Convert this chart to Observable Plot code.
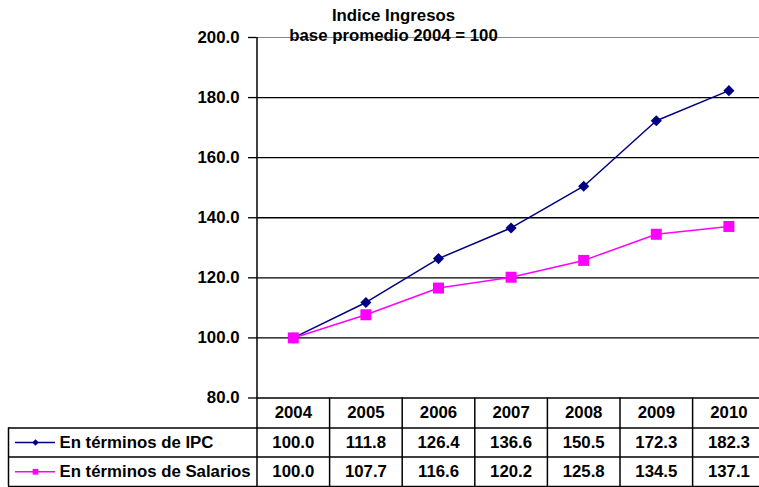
<!DOCTYPE html>
<html>
<head>
<meta charset="utf-8">
<script src="https://cdn.jsdelivr.net/npm/d3@7"></script>
<script src="https://cdn.jsdelivr.net/npm/@observablehq/plot@0.6"></script>
<style>
  html, body { margin: 0; padding: 0; background: #fff; }
  svg { display: block; }
</style>
</head>
<body>
<div id="chart"></div>
<script>
// ---- data ----
const years = [2004, 2005, 2006, 2007, 2008, 2009, 2010];
const ipc = [100.0, 111.8, 126.4, 136.6, 150.5, 172.3, 182.3];
const salarios = [100.0, 107.7, 116.6, 120.2, 125.8, 134.5, 137.1];
const seriesNames = ["En términos de IPC", "En términos de Salarios"];
const yTicks = [80, 100, 120, 140, 160, 180, 200];
const titleLines = ["Indice Ingresos", "base promedio 2004 = 100"];

// ---- layout helpers ----
const W = 759, H = 487;
const mLeft = 256.5, mTop = 37;
const colW = 72.6;
const yTopPx = 37, y80Px = 397.5;
const upp = 120 / (y80Px - yTopPx);              // y units per pixel
const yBottom = 80 - (H - y80Px) * upp;
const pxX = px => 2003.5 + (px - mLeft) / colW;  // pixel -> x units
const pxY = px => 200 - (px - yTopPx) * upp;     // pixel -> y units

const row1Top = pxY(427.5), row2Top = pxY(456.5), tableBottom = pxY(486);
const headerMid = (80 + row1Top) / 2;
const rowMids = [(row1Top + row2Top) / 2, (row2Top + tableBottom) / 2];
const tableLeft = pxX(8);

const navy = "#000080", magenta = "#FF00FF";
const colors = [navy, magenta];
const symbols = ["diamond2", "square"];
const radii = [5, 6.2];
const seriesVals = [ipc, salarios];

const cells = [];
seriesVals.forEach((vals, s) => vals.forEach((v, i) => cells.push({s, year: years[i], v, y: rowMids[s]})));

const boundaries = d3.range(years.length - 1).map(i => years[i] + 0.5);
const font = 16.8;

const chart = Plot.plot({
  width: W, height: H,
  marginTop: mTop, marginLeft: mLeft, marginRight: 0, marginBottom: 0,
  x: {type: "linear", domain: [2003.5, pxX(W)], axis: null},
  y: {domain: [yBottom, 200], axis: null},
  color: {type: "identity"},
  style: {fontFamily: "'Liberation Sans', Arial, sans-serif", fontWeight: "bold", color: "#000", background: "#fff", overflow: "visible"},
  marks: [
    // gridlines
    Plot.ruleY(yTicks.filter(d => d > 80 && d < 200), {stroke: "#000", strokeWidth: 1.3}),
    Plot.ruleY([200], {stroke: "#888", strokeWidth: 1}),
    // axis
    Plot.axisY(yTicks, {label: null, tickFormat: d => d.toFixed(1), tickSize: 8.5, tickPadding: 9, fontSize: font, fontWeight: "bold", stroke: "#000", strokeWidth: 1.3}),
    Plot.ruleX([2003.5], {y1: tableBottom, y2: 200, stroke: "#000", strokeWidth: 1.5}),
    // title
    Plot.text(titleLines, {x: pxX(393), y: (d, i) => i === 0 ? pxY(15.5) : pxY(35.5), text: d => d, fontSize: font, fontWeight: "bold", fill: "#000"}),
    // table lines
    Plot.ruleY([80], {x1: 2003.5, x2: pxX(W), stroke: "#000", strokeWidth: 1.5}),
    Plot.ruleY([row1Top, row2Top, tableBottom], {x1: tableLeft, x2: pxX(W), stroke: "#000", strokeWidth: 1.5}),
    Plot.ruleX(boundaries, {y1: tableBottom, y2: 80, stroke: "#000", strokeWidth: 1.5}),
    Plot.ruleX([tableLeft], {y1: tableBottom, y2: row1Top, stroke: "#000", strokeWidth: 1.5}),
    // table header
    Plot.text(years, {x: d => d, y: headerMid, text: d => String(d), fontSize: font, fontWeight: "bold", fill: "#000"}),
    // table values
    Plot.text(cells, {x: "year", y: "y", text: d => d.v.toFixed(1), fontSize: font, fontWeight: "bold", fill: "#000"}),
    // row labels with legend keys
    Plot.ruleY(seriesNames, {y: (d, i) => rowMids[i], x1: pxX(15), x2: pxX(55), stroke: (d, i) => colors[i], strokeWidth: 1.5}),
    Plot.dot(seriesNames, {x: pxX(35), y: (d, i) => rowMids[i], symbol: (d, i) => symbols[i], r: (d, i) => radii[i], fill: (d, i) => colors[i], stroke: "none"}),
    Plot.text(seriesNames, {x: pxX(59), y: (d, i) => rowMids[i], text: d => d, textAnchor: "start", fontSize: font, fontWeight: "bold", fill: "#000"}),
    // series
    Plot.line(years, {x: d => d, y: (d, i) => ipc[i], stroke: navy, strokeWidth: 1.5}),
    Plot.line(years, {x: d => d, y: (d, i) => salarios[i], stroke: magenta, strokeWidth: 1.5}),
    Plot.dot(years, {x: d => d, y: (d, i) => ipc[i], symbol: "diamond2", r: radii[0], fill: navy, stroke: "none"}),
    Plot.dot(years, {x: d => d, y: (d, i) => salarios[i], symbol: "square", r: radii[1], fill: magenta, stroke: "none"})
  ]
});
document.getElementById("chart").appendChild(chart);
</script>
</body>
</html>
